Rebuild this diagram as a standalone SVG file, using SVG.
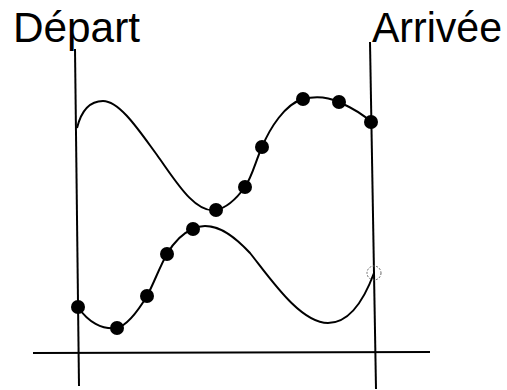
<svg xmlns="http://www.w3.org/2000/svg" width="507" height="390" viewBox="0 0 507 390">
<style>
.ax{stroke:#000;stroke-width:2;fill:none}
.cv{stroke:#000;stroke-width:2;fill:none}
.dot{fill:#000}
.lbl{font-family:"Liberation Sans","DejaVu Sans",sans-serif;font-size:42px;fill:#000}
</style>
<rect width="507" height="390" fill="#fff"/>
<g id="axes">
<line class="ax" x1="75" y1="49" x2="79" y2="386"/>
<line class="ax" x1="370" y1="42" x2="376" y2="389"/>
<line class="ax" x1="33" y1="353" x2="430" y2="352"/>
</g>
<g id="labels">
<text class="lbl" x="13" y="42" textLength="127" lengthAdjust="spacingAndGlyphs">Départ</text>
<text class="lbl" x="372" y="42" textLength="130" lengthAdjust="spacingAndGlyphs">Arrivée</text>
</g>
<g id="upper-curve">
<path class="cv" d="M77,128 C82,108 92,101 103,101 C120,101 140,132 157,155 C175,180 195,214 216,210 C226,208 237,198 245,187 C252,177 256,160 262,147 C270,128 285,104 303,99 C315,96 328,97 339,102 C350,107 362,113 371,122"/>
<circle class="dot" cx="216" cy="210" r="7"/>
<circle class="dot" cx="245" cy="187" r="7"/>
<circle class="dot" cx="262" cy="147" r="7"/>
<circle class="dot" cx="303" cy="99" r="7"/>
<circle class="dot" cx="339" cy="102" r="7"/>
<circle class="dot" cx="371" cy="122" r="7"/>
</g>
<g id="lower-curve">
<path class="cv" d="M78,307 C88,322 102,330 117,328 C128,325 138,311 147,296 C154,283 160,266 167,254 C174,242 183,233 193,229 C197,227 200,226 205,226 C222,226 237,239 250,253 C270,278 300,323 328,323 C350,323 364,300 374,273"/>
<circle class="dot" cx="78" cy="307" r="7"/>
<circle class="dot" cx="117" cy="328" r="7"/>
<circle class="dot" cx="147" cy="296" r="7"/>
<circle class="dot" cx="167" cy="254" r="7"/>
<circle class="dot" cx="193" cy="229" r="7"/>
<circle cx="374" cy="273" r="7" fill="none" stroke="#666" stroke-width="1" stroke-dasharray="2,1.5"/>
</g>
</svg>
